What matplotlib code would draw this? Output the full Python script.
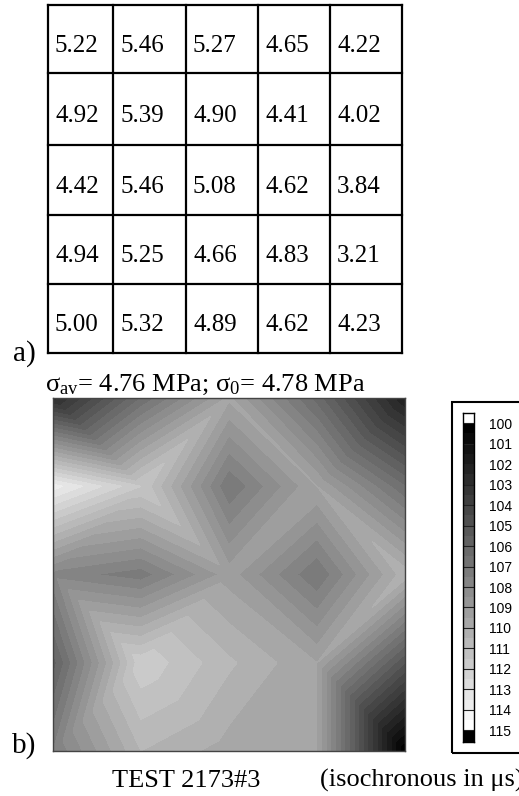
import numpy as np
import matplotlib
matplotlib.use("Agg")
import matplotlib.pyplot as plt
import matplotlib.tri as mtri
from matplotlib.colors import ListedColormap, BoundaryNorm
from matplotlib.patches import Rectangle

plt.rcParams['font.family'] = ['Liberation Serif', 'DejaVu Serif']
plt.rcParams['mathtext.fontset'] = 'custom'
plt.rcParams['mathtext.rm'] = 'Liberation Serif'
plt.rcParams['mathtext.it'] = 'Liberation Serif:italic'

# ---- data ----
# a) stress table (MPa), rows top->bottom
stress = [
    [5.22, 5.46, 5.27, 4.65, 4.22],
    [4.92, 5.39, 4.90, 4.41, 4.02],
    [4.42, 5.46, 5.08, 4.62, 3.84],
    [4.94, 5.25, 4.66, 4.83, 3.21],
    [5.00, 5.32, 4.89, 4.62, 4.23],
]
sigma_av = 4.76
sigma_0 = 4.78

# b) isochronous times (us) at 5x5 nodes, rows top->bottom
iso = [
    [102.75, 106.5, 109.6, 106.25, 102.0],
    [113.75, 111.5, 107.0, 109.5, 106.5],
    [107.8, 107.2, 109.25, 107.0, 110.3],
    [105.75, 111.9, 110.6, 109.5, 105.0],
    [107.5, 110.5, 109.75, 109.5, 100.0],
]
levels = np.arange(100, 115.01, 0.5)
cbar_ticks = list(range(100, 116))
test_label = "TEST 2173#3"
units_label = "(isochronous in μs)"

# ---- figure ----
W, H = 519, 796
fig = plt.figure(figsize=(W / 100, H / 100), dpi=100)

def fax(x0, y0, x1, y1):
    """axes from pixel box (top-left origin)"""
    return fig.add_axes([x0 / W, 1 - y1 / H, (x1 - x0) / W, (y1 - y0) / H])

# ---- table ----
col_px = [48, 113, 186, 258, 330, 402]
row_px = [5, 73, 145, 215, 284, 353]
tax = fax(col_px[0], row_px[0], col_px[-1], row_px[-1])
tax.set_xlim(col_px[0], col_px[-1])
tax.set_ylim(row_px[-1], row_px[0])
tax.axis('off')
for x in col_px:
    tax.plot([x, x], [row_px[0], row_px[-1]], color='black', lw=1.6,
             solid_capstyle='projecting', clip_on=False)
for y in row_px:
    tax.plot([col_px[0], col_px[-1]], [y, y], color='black', lw=1.6,
             solid_capstyle='projecting', clip_on=False)
for i, row in enumerate(stress):
    for j, v in enumerate(row):
        y = row_px[i] + 0.6 * (row_px[i + 1] - row_px[i])
        tax.text(col_px[j] + 7, y, f"{v:.2f}", ha='left', va='center',
                 fontsize=18)

fig.text(13 / W, 1 - 361 / H, "a)", fontsize=21, ha='left', va='baseline')
fig.text(45 / W, 1 - 391 / H,
         r"σ$_{\mathrm{av}}$= %.2f MPa; σ$_{\mathrm{0}}$= %.2f MPa" % (sigma_av, sigma_0),
         fontsize=19, ha='left', va='baseline')

# ---- contour map ----
n = 30
cmap = ListedColormap([(g, g, g) for g in np.linspace(0, 1, n)])
cmap.set_under('white')
cmap.set_over('black')
norm = BoundaryNorm(levels, n)

Z = np.array(iso)
nr, nc = Z.shape
X, Y = np.meshgrid(np.arange(nc), np.arange(nr))
idx = lambda c, r: r * nc + c
tris = []
for r in range(nr - 1):
    for c in range(nc - 1):
        a, b, cc, d = idx(c, r), idx(c + 1, r), idx(c, r + 1), idx(c + 1, r + 1)
        if (c + r) % 2 == 0:
            tris += [[a, b, d], [a, d, cc]]
        else:
            tris += [[a, b, cc], [b, d, cc]]
tri = mtri.Triangulation(X.ravel(), Y.ravel(), np.array(tris))

max_ = fax(53, 398, 405, 751)
max_.tricontourf(tri, Z.ravel(), levels=levels, cmap=cmap, norm=norm)
max_.set_xlim(0, nc - 1)
max_.set_ylim(nr - 1, 0)
max_.set_xticks([])
max_.set_yticks([])
for s in max_.spines.values():
    s.set_color('#444444')
    s.set_linewidth(1.0)

fig.text(12 / W, 1 - 753 / H, "b)", fontsize=21, ha='left', va='baseline')
fig.text(112 / W, 1 - 787 / H, test_label, fontsize=19, ha='left', va='baseline')
fig.text(320 / W, 1 - 787 / H, units_label, fontsize=19, ha='left', va='baseline')

# ---- legend box + colour bar ----
fig.patches.append(Rectangle((452 / W, 1 - 753 / H), 90 / W, 351 / H,
                             transform=fig.transFigure, fill=False,
                             edgecolor='black', lw=1.5))
cax = fax(463, 413, 474, 742)
edges = np.concatenate([[99.5], levels, [115.57]])
mids = (edges[:-1] + edges[1:]) / 2
cax.pcolormesh([0, 1], edges, mids.reshape(-1, 1), cmap=cmap, norm=norm)
cax.set_xlim(0, 1)
cax.set_ylim(edges[-1], edges[0])
cax.set_xticks([])
cax.yaxis.tick_right()
cax.set_yticks(cbar_ticks)
cax.set_yticklabels([str(t) for t in cbar_ticks],
                    fontfamily=['Liberation Sans', 'DejaVu Sans'], fontsize=10)
cax.tick_params(axis='y', direction='in', length=11 * 0.72, width=0.8,
                color='#222222', pad=11)
for s in cax.spines.values():
    s.set_color('black')
    s.set_linewidth(1.0)

fig.savefig("out.png", dpi=100)
